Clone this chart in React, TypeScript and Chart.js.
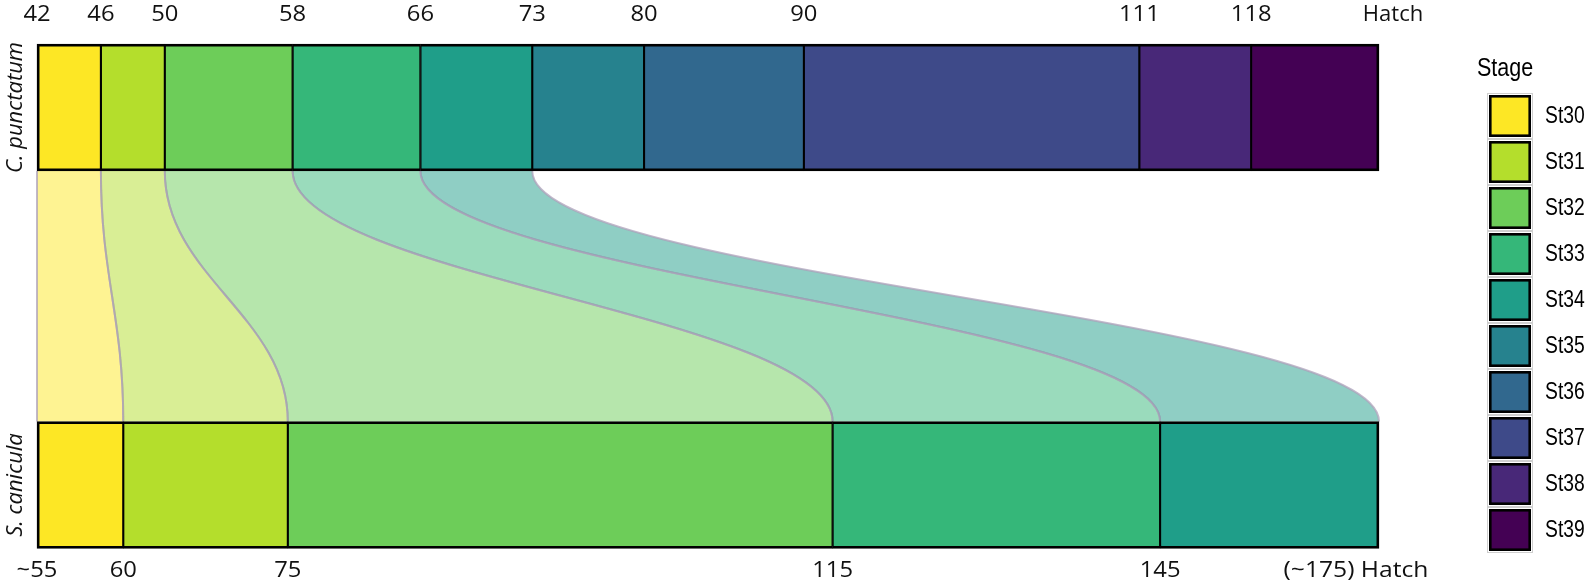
import React, { useEffect, useRef } from 'react';
import { Chart, registerables } from 'chart.js';

Chart.register(...registerables);

// ---- data ----
const species = ['C. punctatum', 'S. canicula'];
const stages = ['St30', 'St31', 'St32', 'St33', 'St34', 'St35', 'St36', 'St37', 'St38', 'St39'];
const stageColors = ['#FDE725', '#B4DE2C', '#6DCD59', '#35B779', '#1F9E89', '#26828E', '#31688E', '#3E4A89', '#482878', '#440154'];
// C. punctatum stage boundaries (days post fertilisation; last = hatch)
const cpBoundaries = [42, 46, 50, 58, 66, 73, 80, 90, 111, 118, 126];
const cpTickLabels = ['42', '46', '50', '58', '66', '73', '80', '90', '111', '118', 'Hatch'];
// S. canicula stage boundaries, expressed on the shared (C. punctatum) axis
const scBoundaries = [42, 47.4, 57.7, 91.8, 112.3, 126];
const scTickLabels = ['~55', '60', '75', '115', '145', '(~175) Hatch'];

const TICK_FONT = '22px "Open Sans"';
const LEGEND_FONT = '"Liberation Sans", Arial, sans-serif';

const ribbonPlugin = {
  id: 'ribbons',
  beforeDatasetsDraw(chart: any) {
    const ctx = chart.ctx;
    const xs = chart.scales.x;
    const meta = chart.getDatasetMeta(0);
    const topEl: any = meta.data[0];
    const botEl: any = meta.data[1];
    const yTop = topEl.y + topEl.height / 2;
    const yBot = botEl.y - botEl.height / 2;
    const h = yBot - yTop;
    const k = h * 0.42;
    for (let i = 0; i < scBoundaries.length - 1; i++) {
      const a0 = xs.getPixelForValue(cpBoundaries[i]);
      const a1 = xs.getPixelForValue(cpBoundaries[i + 1]);
      const b0 = xs.getPixelForValue(scBoundaries[i]);
      const b1 = xs.getPixelForValue(scBoundaries[i + 1]);
      ctx.save();
      ctx.beginPath();
      ctx.moveTo(a0, yTop);
      ctx.bezierCurveTo(a0, yTop + k, b0, yBot - k, b0, yBot);
      ctx.lineTo(b1, yBot);
      ctx.bezierCurveTo(b1, yBot - k, a1, yTop + k, a1, yTop);
      ctx.closePath();
      ctx.globalAlpha = 0.5;
      ctx.fillStyle = stageColors[i];
      ctx.fill();
      ctx.globalAlpha = 1;
      ctx.strokeStyle = 'rgba(172,160,185,0.75)';
      ctx.lineWidth = 2;
      ctx.beginPath();
      ctx.moveTo(a0, yTop);
      ctx.bezierCurveTo(a0, yTop + k, b0, yBot - k, b0, yBot);
      ctx.stroke();
      ctx.beginPath();
      ctx.moveTo(b1, yBot);
      ctx.bezierCurveTo(b1, yBot - k, a1, yTop + k, a1, yTop);
      ctx.stroke();
      ctx.restore();
    }
  },
};

function scaledText(ctx: any, text: string, x: number, y: number, sx: number) {
  ctx.save();
  ctx.translate(x, y);
  ctx.scale(sx, 1);
  ctx.fillText(text, 0, 0);
  ctx.restore();
}

const textPlugin = {
  id: 'texts',
  afterDraw(chart: any) {
    const ctx = chart.ctx;
    const xs = chart.scales.x;
    const meta = chart.getDatasetMeta(0);
    const topEl: any = meta.data[0];
    const botEl: any = meta.data[1];
    ctx.save();
    ctx.fillStyle = '#111';
    ctx.font = TICK_FONT;
    ctx.textAlign = 'center';
    ctx.textBaseline = 'alphabetic';
    cpBoundaries.forEach((v, i) => {
      const lab = cpTickLabels[i];
      const isHatch = lab === 'Hatch';
      scaledText(ctx, lab, xs.getPixelForValue(v) + (isHatch ? 14 : 0), 21, isHatch ? 1 : 1.08);
    });
    scBoundaries.forEach((v, i) => {
      const lab = scTickLabels[i];
      const last = i === scBoundaries.length - 1;
      scaledText(ctx, lab, xs.getPixelForValue(v) + (last ? -23 : 0), 577, last ? 1.12 : 1.08);
    });
    // species labels
    ctx.font = 'italic 22px "Open Sans"';
    [topEl, botEl].forEach((el, i) => {
      ctx.save();
      ctx.translate(22, el.y);
      ctx.rotate(-Math.PI / 2);
      ctx.textAlign = 'center';
      ctx.fillText(species[i], 0, 0);
      ctx.restore();
    });
    // legend
    ctx.textAlign = 'left';
    ctx.fillStyle = '#000';
    ctx.font = '25px ' + LEGEND_FONT;
    scaledText(ctx, 'Stage', 1477, 76, 0.86);
    const cellX = 1487;
    const cellY0 = 93;
    const cell = 46;
    stages.forEach((s, i) => {
      const y = cellY0 + i * cell;
      ctx.strokeStyle = '#cfcfcf';
      ctx.lineWidth = 1;
      ctx.strokeRect(cellX + 0.5, y + 0.5, cell - 1, cell - 1);
      ctx.fillStyle = stageColors[i];
      ctx.fillRect(cellX + 2, y + 2, cell - 4, cell - 4);
      ctx.strokeStyle = '#000';
      ctx.lineWidth = 2.6;
      ctx.strokeRect(cellX + 3.3, y + 3.3, cell - 6.6, cell - 6.6);
      ctx.fillStyle = '#000';
      ctx.font = '23px ' + LEGEND_FONT;
      ctx.textBaseline = 'middle';
      scaledText(ctx, s, 1545, y + cell / 2 + 1, 0.84);
      ctx.textBaseline = 'alphabetic';
    });
    ctx.restore();
  },
};

export default function App() {
  const ref = useRef<HTMLCanvasElement>(null);
  useEffect(() => {
    if (!ref.current) return;
    const datasets = stages.map((s, i) => ({
      label: s,
      data: [
        [cpBoundaries[i], cpBoundaries[i + 1]],
        i < scBoundaries.length - 1 ? [scBoundaries[i], scBoundaries[i + 1]] : null,
      ] as any,
      backgroundColor: stageColors[i],
      borderColor: '#000',
      borderSkipped: false as any,
      borderWidth: (c: any) => {
        const v = c.raw as number[] | null;
        if (!v) return 0;
        const arr = c.dataIndex === 0 ? cpBoundaries : scBoundaries;
        const first = v[0] === arr[0];
        const last = v[1] === arr[arr.length - 1];
        return { top: 2.8, bottom: 2.8, left: first ? 2.8 : 1.4, right: last ? 2.8 : 1.4 };
      },
      barThickness: 127,
      grouped: false,
      clip: false as any,
    }));
    const chart = new Chart(ref.current, {
      type: 'bar',
      data: { labels: species, datasets },
      options: {
        indexAxis: 'y',
        responsive: false,
        animation: false,
        layout: { padding: { left: 37, right: 215, top: 107.5, bottom: 96 } },
        scales: {
          x: { type: 'linear', min: cpBoundaries[0], max: cpBoundaries[cpBoundaries.length - 1], display: false },
          y: { type: 'category', offset: false, display: false },
        },
        plugins: { legend: { display: false }, tooltip: { enabled: false } },
      },
      plugins: [ribbonPlugin, textPlugin],
    });
    return () => chart.destroy();
  }, []);
  return (
    <div style={{ position: 'absolute', left: 0, top: 0, width: 1594, height: 581, background: '#fff' }}>
      <canvas ref={ref} width={1594} height={581} style={{ display: 'block' }} />
    </div>
  );
}
